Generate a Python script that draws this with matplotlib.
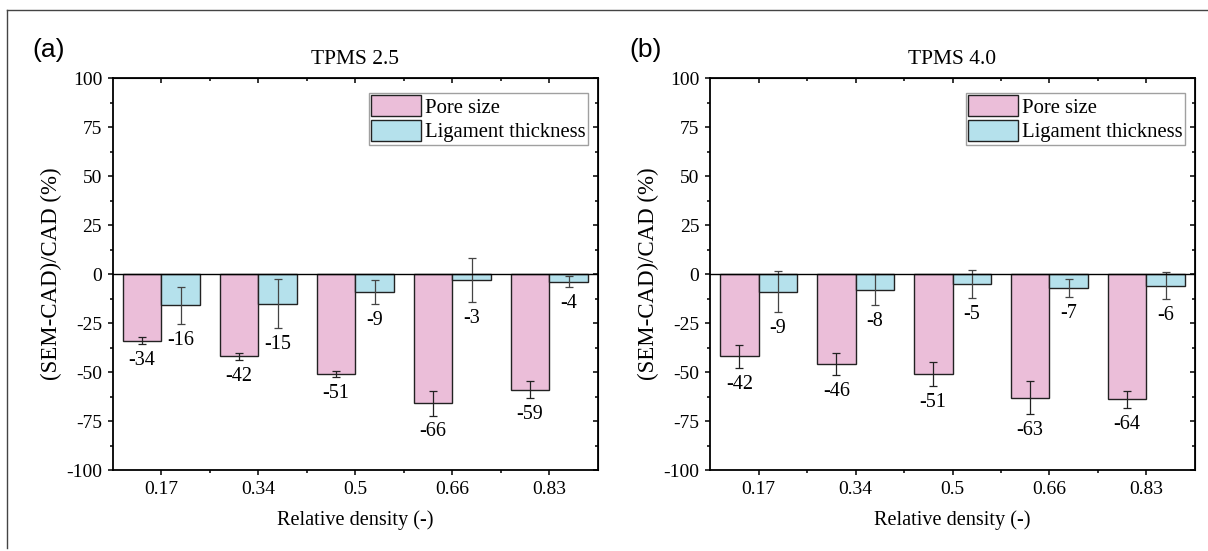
import matplotlib.pyplot as plt
from matplotlib.lines import Line2D
from matplotlib.ticker import MultipleLocator, FixedLocator
import numpy as np

plt.rcParams['font.family'] = ['Liberation Serif', 'DejaVu Serif']
plt.rcParams['axes.unicode_minus'] = False

# data
densities = ['0.17', '0.34', '0.5', '0.66', '0.83']

pore_25 = [-34, -42, -51, -66, -59]
pore_25_err = [1.8, 1.9, 1.7, 6.2, 4.3]
lig_25 = [-16, -15, -9, -3, -4]
lig_25_err = [9.5, 12.7, 6.2, 11.1, 2.8]

pore_40 = [-42, -46, -51, -63, -64]
pore_40_err = [6.0, 5.5, 5.9, 8.5, 4.2]
lig_40 = [-9, -8, -5, -7, -6]
lig_40_err = [10.5, 8.0, 7.2, 4.5, 6.9]

pink = '#EBBED9'
cyan = '#B5E1EC'


def draw_panel(ax, pore, pore_err, lig, lig_err, title, letter):
    x = np.arange(len(densities))
    w = 0.4
    ax.bar(x - w / 2, pore, w, color=pink, edgecolor='#222222', linewidth=1.0,
           label='Pore size', zorder=2)
    ax.bar(x + w / 2, lig, w, color=cyan, edgecolor='#222222', linewidth=1.0,
           label='Ligament thickness', zorder=2)
    ax.errorbar(x - w / 2, pore, yerr=pore_err, fmt='none', ecolor='#222222',
                elinewidth=0.9, capsize=3, capthick=0.9, zorder=3)
    ax.errorbar(x + w / 2, lig, yerr=lig_err, fmt='none', ecolor='#444444',
                elinewidth=0.9, capsize=3, capthick=0.9, zorder=3)
    ax.axhline(0, color='black', linewidth=1.0, zorder=4)

    # value labels sit just under the lower end of each error bar
    for xi, v, e in zip(x - w / 2, pore, pore_err):
        ax.annotate(str(v), (xi, v - e), xytext=(0, -5), textcoords='offset points',
                    ha='center', va='top', fontsize=14.5)
    for xi, v, e in zip(x + w / 2, lig, lig_err):
        ax.annotate(str(v), (xi, v - e), xytext=(0, -5), textcoords='offset points',
                    ha='center', va='top', fontsize=14.5)

    ax.set_xlim(-0.5, len(densities) - 0.5)
    ax.set_ylim(-100, 100)
    ax.set_xticks(x)
    ax.set_xticklabels(densities)
    ax.xaxis.set_minor_locator(FixedLocator(x[:-1] + 0.5))
    ax.yaxis.set_major_locator(MultipleLocator(25))
    ax.yaxis.set_minor_locator(MultipleLocator(12.5))
    ax.tick_params(which='both', direction='out', labelsize=14, width=1.1, pad=4)
    ax.tick_params(which='major', length=3.8)
    ax.tick_params(which='minor', length=2.3)
    for s in ax.spines.values():
        s.set_linewidth(1.3)

    top = ax.secondary_xaxis('top')
    top.set_xticks(x)
    top.set_xticklabels([])
    top.xaxis.set_minor_locator(FixedLocator(x[:-1] + 0.5))
    top.tick_params(which='both', direction='in', width=1.1)
    top.tick_params(which='major', length=3.8)
    top.tick_params(which='minor', length=2.3)
    right = ax.secondary_yaxis('right')
    right.yaxis.set_major_locator(MultipleLocator(25))
    right.yaxis.set_minor_locator(MultipleLocator(12.5))
    right.set_yticklabels([])
    right.tick_params(which='both', direction='in', width=1.1)
    right.tick_params(which='major', length=3.8)
    right.tick_params(which='minor', length=2.3)

    ax.set_xlabel('Relative density (-)', fontsize=14.6, labelpad=9)
    ax.set_ylabel('(SEM-CAD)/CAD (%)', fontsize=16.5, labelpad=3)
    ax.text(0.5, 1.048, title, transform=ax.transAxes, ha='center', va='center',
            fontsize=15.5)
    ax.text(-0.167, 1.073, letter, transform=ax.transAxes, ha='left', va='center',
            fontsize=19, family='Liberation Sans')

    leg = ax.legend(loc='upper right', bbox_to_anchor=(0.98, 0.963), borderaxespad=0,
                    fontsize=14.9, fancybox=False, handlelength=2.4, handleheight=1.15,
                    labelspacing=0.12, borderpad=0.12, handletextpad=0.2)
    leg.get_frame().set_edgecolor('#888888')
    leg.get_frame().set_linewidth(1.0)


fig = plt.figure(figsize=(12.08, 5.51), dpi=100)
ax1 = fig.add_axes([0.0935, 0.147, 0.4015, 0.711])
ax2 = fig.add_axes([0.588, 0.147, 0.401, 0.711])

draw_panel(ax1, pore_25, pore_25_err, lig_25, lig_25_err, 'TPMS 2.5', '(a)')
draw_panel(ax2, pore_40, pore_40_err, lig_40, lig_40_err, 'TPMS 4.0', '(b)')

# outer frame (top and left edges)
fig.add_artist(Line2D([7 / 1208, 1], [1 - 10 / 551, 1 - 10 / 551], color='#444444', linewidth=1.0))
fig.add_artist(Line2D([7 / 1208, 7 / 1208], [1 - 548 / 551, 1 - 10 / 551], color='#444444', linewidth=1.0))

fig.savefig('out.png', dpi=100)
